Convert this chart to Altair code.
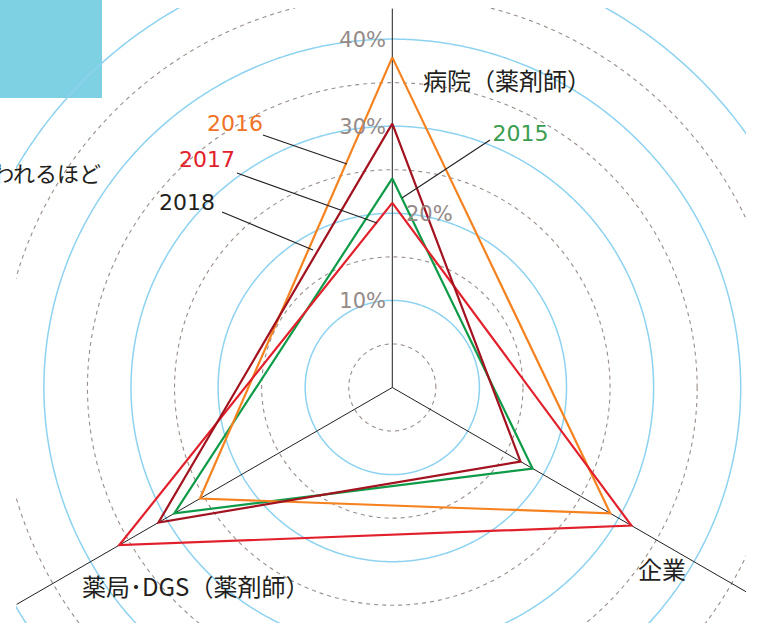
import numpy as np
import pandas as pd
import altair as alt

# ---------------- data ----------------
axis_names = ["病院（薬剤師）", "企業", "薬局･DGS（薬剤師）"]
axis_angles = [90.0, -30.0, 210.0]          # degrees
axis_lengths = [43.5, 47.0, 49.8]            # in % units
years = ["2015", "2016", "2017", "2018"]
hospital = [24.0, 37.9, 21.2, 30.3]
company = [18.6, 28.9, 31.7, 17.0]
pharmacy = [28.9, 25.5, 36.2, 31.0]
year_colors = ["#0e9b48", "#f5821f", "#e2202b", "#a3121f"]
label_colors = ["#3a9d50", "#f07327", "#e3212b", "#231f20"]
solid_rings = [10, 20, 30, 40, 50]
dashed_rings = [5, 15, 25, 35, 45]
tick_values_left = [10, 30, 40]
tick_labels_left = ["10%", "30%", "40%"]
tick_values_right = [20]
tick_labels_right = ["20%"]

# annotation positions (chart units, %)
year_label_x = [14.72, -18.06, -21.27, -23.57]
year_label_y = [29.22, 30.48, 26.24, 21.30]
leader_x = [11.22, -14.85, -17.83, -19.55]
leader_y = [28.42, 28.99, 24.62, 20.15]
leader_x2 = [1.11, -5.20, -1.76, -9.10]
leader_y2 = [21.76, 25.66, 18.89, 15.79]
axis_label_x = [3.52, 28.21, -35.62]
axis_label_y = [35.19, -20.95, -22.90]
side_text = ["われるほど"]
side_text_x = [-33.44]
side_text_y = [24.63]
panel_box = [-45.04, -33.33, 44.49, 33.24]   # x0, x1, y0, y1

# ---------------- layout ----------------
W, H = 757, 629
PAD_L, PAD_T, PAD_R, PAD_B = 16, 8, 11, 6
VW, VH = W - PAD_L - PAD_R, H - PAD_T - PAD_B
PX = 8.71
CX, CY = 392.3 - PAD_L, 387.5 - PAD_T
xdom = [-CX / PX, (VW - CX) / PX]
ydom = [-(VH - CY) / PX, CY / PX]
xs = alt.Scale(domain=xdom, nice=False, zero=False)
ys = alt.Scale(domain=ydom, nice=False, zero=False)


def X(f):
    return alt.X(f, type="quantitative", scale=xs, axis=None)


def Y(f):
    return alt.Y(f, type="quantitative", scale=ys, axis=None)


# rings
t = np.linspace(0, 2 * np.pi, 721)
ring_rows = []
for kind, rs in (("solid", solid_rings), ("dashed", dashed_rings)):
    for r in rs:
        for i, a in enumerate(t):
            ring_rows.append(dict(kind=kind, r=r, i=i, x=r * np.cos(a), y=r * np.sin(a)))
rings = pd.DataFrame(ring_rows)

# axes
axes_df = pd.DataFrame({
    "name": axis_names,
    "x": 0.0, "y": 0.0,
    "x2": [L * np.cos(np.radians(a)) for L, a in zip(axis_lengths, axis_angles)],
    "y2": [L * np.sin(np.radians(a)) for L, a in zip(axis_lengths, axis_angles)],
})

# polygons
poly_rows = []
for yi, yr in enumerate(years):
    vals = [hospital[yi], company[yi], pharmacy[yi], hospital[yi]]
    angs = axis_angles + [axis_angles[0]]
    for k, (v, a) in enumerate(zip(vals, angs)):
        poly_rows.append(dict(year=yr, k=k, x=v * np.cos(np.radians(a)), y=v * np.sin(np.radians(a))))
poly = pd.DataFrame(poly_rows)

leaders = pd.DataFrame({"year": years, "x": leader_x, "y": leader_y, "x2": leader_x2, "y2": leader_y2})
year_labels = pd.DataFrame({"year": years, "x": year_label_x, "y": year_label_y, "col": label_colors})
axis_lab = pd.DataFrame({"name": axis_names, "x": axis_label_x, "y": axis_label_y})
ticks_l = pd.DataFrame({"label": tick_labels_left, "x": -0.72, "y": tick_values_left})
ticks_r = pd.DataFrame({"label": tick_labels_right, "x": 1.57, "y": tick_values_right})
side = pd.DataFrame({"t": side_text, "x": side_text_x, "y": side_text_y})
box = pd.DataFrame({"x": [panel_box[0]], "x2": [panel_box[1]], "y": [panel_box[2]], "y2": [panel_box[3]]})

JP = "Noto Sans CJK JP"
NUM = "DejaVu Sans"

box_layer = alt.Chart(box).mark_rect(color="#7dd1e3").encode(
    x=X("x"), x2="x2", y=Y("y"), y2="y2")

solid_layer = alt.Chart(rings).transform_filter("datum.kind == 'solid'").mark_line(
    color="#8dd3f1", strokeWidth=1.5, clip=True).encode(
    x=X("x"), y=Y("y"), detail="r:N", order="i:Q")

dashed_layer = alt.Chart(rings).transform_filter("datum.kind == 'dashed'").mark_line(
    color="#9a8e8a", strokeWidth=1.1, strokeDash=[4, 4], clip=True).encode(
    x=X("x"), y=Y("y"), detail="r:N", order="i:Q")

axes_layer = alt.Chart(axes_df).mark_rule(color="#231f20", strokeWidth=1, clip=True).encode(
    x=X("x"), y=Y("y"), x2="x2", y2="y2")

poly_layer = alt.Chart(poly).mark_line(strokeWidth=2.2, clip=True, strokeJoin="miter", strokeMiterLimit=20).encode(
    x=X("x"), y=Y("y"),
    color=alt.Color("year:N", scale=alt.Scale(domain=years, range=year_colors), legend=None),
    order="k:Q")

leader_layer = alt.Chart(leaders).mark_rule(color="#231f20", strokeWidth=1.1).encode(
    x=X("x"), y=Y("y"), x2="x2", y2="y2")

year_text = alt.Chart(year_labels).mark_text(font=NUM, fontSize=22, align="center", baseline="middle", dy=1.5).encode(
    x=X("x"), y=Y("y"), text="year:N",
    color=alt.Color("col:N", scale=None, legend=None))

axis_text = alt.Chart(axis_lab).mark_text(font=JP, fontSize=24, align="left", baseline="middle", dy=2,
                                          color="#231f20").encode(
    x=X("x"), y=Y("y"), text="name:N")

tick_text_l = alt.Chart(ticks_l).mark_text(font=NUM, fontSize=21, align="right", baseline="middle", dy=1.5,
                                           color="#958a88").encode(
    x=X("x"), y=Y("y"), text="label:N")
tick_text_r = alt.Chart(ticks_r).mark_text(font=NUM, fontSize=21, align="left", baseline="middle", dy=1.5,
                                           color="#958a88").encode(
    x=X("x"), y=Y("y"), text="label:N")

side_layer = alt.Chart(side).mark_text(font=JP, fontSize=22, align="right", baseline="middle", dy=2,
                                       color="#231f20").encode(
    x=X("x"), y=Y("y"), text="t:N")

chart = alt.layer(
    box_layer, solid_layer, dashed_layer, axes_layer, poly_layer, leader_layer,
    year_text, axis_text, tick_text_l, tick_text_r, side_layer,
).resolve_scale(color="independent").properties(
    width=VW, height=VH,
    padding={"left": PAD_L, "top": PAD_T, "right": PAD_R, "bottom": PAD_B},
    autosize=alt.AutoSizeParams(type="none"),
    background="white",
).configure_view(strokeWidth=0)

chart.save("out.html", embed_options={"renderer": "svg", "actions": False})
